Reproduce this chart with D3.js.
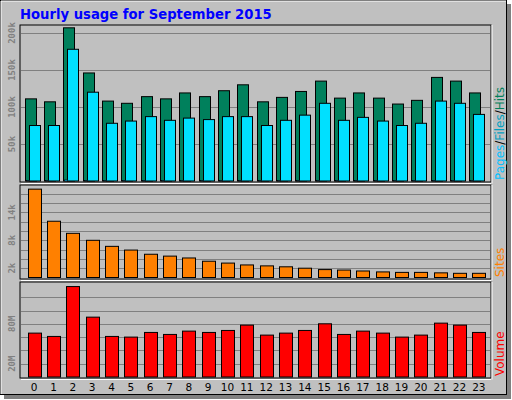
<!DOCTYPE html><html><head><script src="https://cdn.jsdelivr.net/npm/d3@7"></script>
<style>body{margin:0;background:#fff}</style></head><body><svg id="c" width="512" height="400"></svg>
<script>
const hours=d3.range(24).map(String);
const hits=[111,107,207,146,108,105,114,111,119,114,122,130,107,113,121,135,112,119,112,104,109,140,135,119].map(v=>v*1000);
const files=[75,75,178,120,78,81,87,82,85,83,87,87,75,82,89,105,82,86,81,75,78,108,105,90].map(v=>v*1000);
const pages=[1,1,1.5,1,1,1,1,1,1,1,1,1,1,1,1,1,1,1,1,1,1,1,1,1].map(v=>v*1000);
const sites=[19,12.1,9.5,8,6.7,5.9,5.0,4.6,4.2,3.5,3.1,2.7,2.5,2.3,2.0,1.7,1.6,1.4,1.2,1.1,1.1,1.0,0.9,0.9].map(v=>v*1000);
const volume=[66,61,136,90,61,60,67,64,69,67,70,78,63,66,70,80,64,69,66,60,63,81,78,67].map(v=>v*1e6);
const hitsTicks=[50000,100000,150000,200000], sitesTicks=[2000,8000,14000], volTicks=[20e6,80e6];
const svg=d3.select("#c");
svg.append("rect").attr("x",4).attr("y",4).attr("width",507).attr("height",395).attr("fill","#808080");
svg.append("rect").attr("x",0.5).attr("y",0.5).attr("width",506).attr("height",394).attr("fill","#C0C0C0").attr("stroke","#000");
svg.append("line").attr("x1",1).attr("y1",1).attr("x2",506).attr("y2",1).attr("stroke","#fff");
svg.append("line").attr("x1",1).attr("y1",1).attr("x2",1).attr("y2",394).attr("stroke","#fff");
svg.append("text").attr("x",20).attr("y",19).text("Hourly usage for September 2015").attr("fill","#0000FF").attr("font-family","DejaVu Sans").attr("font-weight","bold").attr("font-size",13.2);
const X0=20,X1=491;
const x=d3.scaleBand().domain(hours).range([24.5,488.5]).padding(0);
function panel(y0,y1,yscale,ticks,fmt,gridStep){
  svg.append("rect").attr("x",X0).attr("y",y0).attr("width",X1-X0).attr("height",y1-y0).attr("fill","none").attr("stroke","#000");
  svg.append("line").attr("x1",X0+1).attr("x2",X1).attr("y1",y1+1.5).attr("y2",y1+1.5).attr("stroke","#fff");
  svg.append("line").attr("x1",X1+1).attr("x2",X1+1).attr("y1",y0).attr("y2",y1+1.5).attr("stroke","#fff");
  const g=svg.append("g");
  g.selectAll("line").data(gridStep).join("line").attr("x1",X0+1).attr("x2",X1-1).attr("y1",d=>Math.round(yscale(d))+.5).attr("y2",d=>Math.round(yscale(d))+.5).attr("stroke","#808080").attr("stroke-width",1.2);
  svg.append("g").selectAll("text").data(ticks).join("text").attr("transform",d=>`translate(15,${yscale(d)}) rotate(-90)`).attr("text-anchor","middle").text(fmt).attr("fill","#808080").attr("font-family","DejaVu Sans Mono").attr("font-weight","bold").attr("font-size",9);
}
const yH=d3.scaleLinear().domain([0,250000]).range([181,-4]);
panel(25,182,yH,hitsTicks,d=>d/1000+"k",[50000,100000,150000,200000]);
const bw=11;
svg.append("g").selectAll("rect").data(hits).join("rect").attr("x",(d,i)=>Math.round(x(hours[i]))+.5).attr("y",d=>yH(d)).attr("width",bw).attr("height",d=>181-yH(d)).attr("fill","#00805C").attr("stroke","#000");
svg.append("g").selectAll("rect").data(files).join("rect").attr("x",(d,i)=>Math.round(x(hours[i]))+4.5).attr("y",d=>yH(d)).attr("width",bw).attr("height",d=>181-yH(d)).attr("fill","#00E0FF").attr("stroke","#000");
svg.append("g").selectAll("rect").data(pages).join("rect").attr("x",(d,i)=>Math.round(x(hours[i]))+1.5).attr("y",d=>yH(d)).attr("width",3).attr("height",d=>181-yH(d)).attr("fill","#00C0FF").attr("stroke","#000").attr("stroke-width",.5);
const yS=d3.scaleLinear().domain([0,2000]).range([277.5,268.2]);
panel(185,279,yS,sitesTicks,d=>d/1000+"k",d3.range(1,10).map(i=>i*2000));
const sw=13;
svg.append("g").selectAll("rect").data(sites).join("rect").attr("x",(d,i)=>Math.round(x(hours[i])+x.bandwidth()/2-sw/2)+.5).attr("y",d=>yS(d)).attr("width",sw).attr("height",d=>277.5-yS(d)).attr("fill","#FF8000").attr("stroke","#000");
const yV=d3.scaleLinear().domain([0,20e6]).range([377,363.7]);
panel(282,378,yV,volTicks,d=>d/1e6+"M",d3.range(1,7).map(i=>i*20e6));
svg.append("g").selectAll("rect").data(volume).join("rect").attr("x",(d,i)=>Math.round(x(hours[i])+x.bandwidth()/2-sw/2)+.5).attr("y",d=>yV(d)).attr("width",sw).attr("height",d=>377-yV(d)).attr("fill","#FF0000").attr("stroke","#000");
svg.append("g").selectAll("text").data(hours).join("text").attr("x",d=>x(d)+x.bandwidth()/2).attr("y",391).attr("text-anchor","middle").text(d=>d).attr("font-family","DejaVu Sans").attr("font-size",10.5).attr("fill","#000");
const rl=svg.append("text").attr("transform","translate(504,180) rotate(-90)").attr("font-family","DejaVu Sans").attr("font-size",12);
rl.append("tspan").text("Pages").attr("fill","#00C0FF");rl.append("tspan").text("/").attr("fill","#000");
rl.append("tspan").text("Files").attr("fill","#00A0C0");rl.append("tspan").text("/").attr("fill","#000");
rl.append("tspan").text("Hits").attr("fill","#00805C");
svg.append("text").attr("transform","translate(504,277) rotate(-90)").text("Sites").attr("fill","#FF8000").attr("font-family","DejaVu Sans").attr("font-size",12);
svg.append("text").attr("transform","translate(504,376) rotate(-90)").text("Volume").attr("fill","#FF0000").attr("font-family","DejaVu Sans").attr("font-size",12);
</script></body></html>
